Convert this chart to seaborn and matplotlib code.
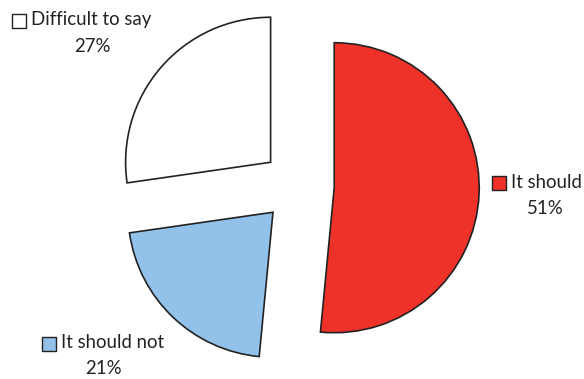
import matplotlib.pyplot as plt
import seaborn as sns

# Survey answers (share of respondents, %)
answers = ["It should", "It should not", "Difficult to say"]
shares = [51, 21, 27]
colors = ["#EE3229", "#92C1E9", "#FFFFFF"]

sns.set_style("white")
plt.rcParams['font.family'] = ['Lato', 'DejaVu Sans']

fig = plt.figure(figsize=(5.84, 3.79), dpi=100)
ax = fig.add_axes([0, 0, 1, 1])

ax.pie(shares, colors=colors, startangle=90, counterclock=False,
       explode=[0.25] * len(shares), radius=1.0,
       wedgeprops=dict(edgecolor="#222222", linewidth=1.2))

# map picture pixels to data units (pie centre ~ (298, 186), radius ~145 px)
cx, cy, r = 298, 186, 145
ax.set_xlim(-cx / r, (584 - cx) / r)
ax.set_ylim((cy - 379) / r, cy / r)
ax.set_aspect("auto")
ax.axis("off")


def px(x, y):
    return (x - cx) / r, (cy - y) / r


# label layout: (square left x, line-1 centre y, percent centre x, percent y)
label_pos = {
    "Difficult to say": (12, 20, 92, 46),
    "It should": (492, 182, 545, 208),
    "It should not": (42, 343, 103, 368),
}

for name, val, col in zip(answers, shares, colors):
    sx, ly, pcx, py = label_pos[name]
    qx, qy = px(sx + 7, ly + 1)
    ax.scatter([qx], [qy], marker="s", s=95, color=col,
               edgecolor="#222222", linewidth=1.0, zorder=5)
    tx, ty = px(sx + 19, ly)
    ax.text(tx, ty, name, ha="left", va="center", fontsize=13.4, color="#222222")
    vx, vy = px(pcx, py)
    ax.text(vx, vy, f"{val}%", ha="center", va="center", fontsize=13.4,
            color="#222222")

fig.savefig("out.png", dpi=100)
